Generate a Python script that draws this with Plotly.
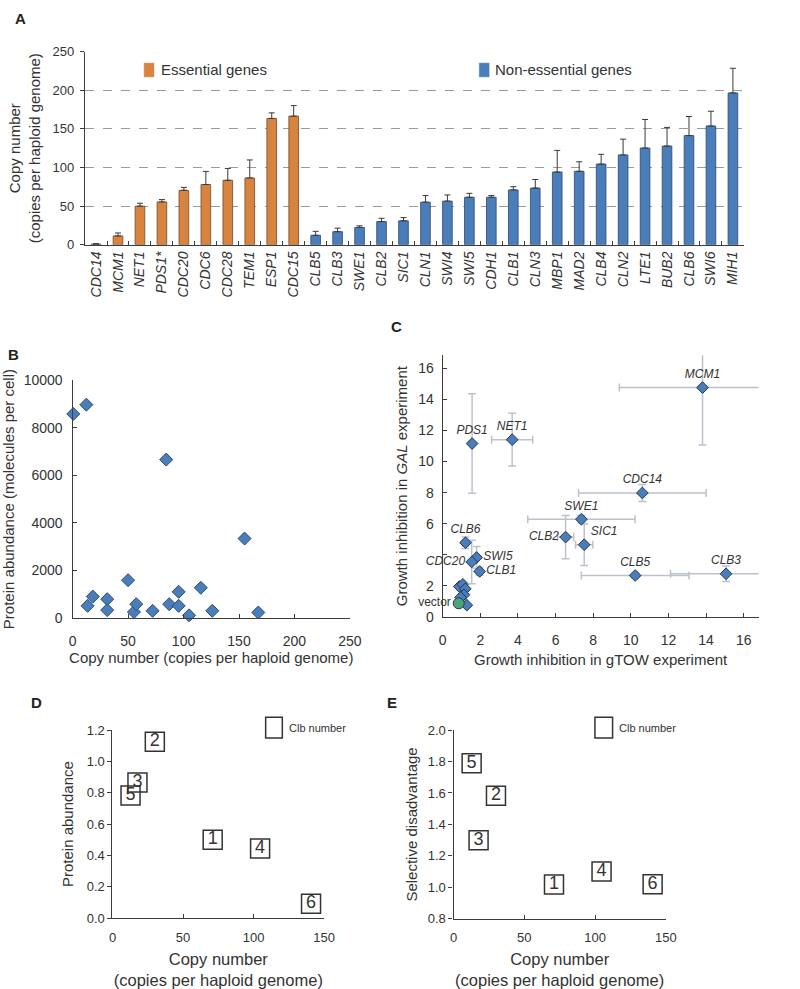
import plotly.graph_objects as go

FONT = "Liberation Sans, Arial, Helvetica, sans-serif"
TXT = "#333333"
AX = "#3c3c3c"
ORANGE = "#d8843f"
BLUE = "#4a7ebb"

# ---------------- Panel A data ----------------
essential_genes = ["CDC14", "MCM1", "NET1", "PDS1*", "CDC20", "CDC6", "CDC28", "TEM1", "ESP1", "CDC15"]
essential_copies = [1.0, 11.5, 50.0, 55.5, 70.5, 78.0, 83.5, 86.5, 163.5, 166.5]
essential_err = [0.5, 3.8, 3.8, 3.0, 3.8, 17.0, 15.3, 23.3, 7.2, 13.6]

nonessential_genes = ["CLB5", "CLB3", "SWE1", "CLB2", "SIC1", "CLN1", "SWI4", "SWI5", "CDH1", "CLB1",
                      "CLN3", "MBP1", "MAD2", "CLB4", "CLN2", "LTE1", "BUB2", "CLB6", "SWI6", "MIH1"]
nonessential_copies = [12.3, 17.0, 22.5, 30.0, 31.0, 55.2, 56.5, 61.5, 61.5, 71.0,
                       73.4, 94.2, 95.1, 104.4, 116.3, 125.2, 127.8, 141.3, 153.7, 196.5]
nonessential_err = [5.1, 4.6, 2.1, 4.3, 4.2, 8.5, 8.0, 5.1, 2.2, 4.2,
                    11.1, 28.0, 12.3, 12.7, 20.4, 36.9, 24.1, 24.7, 19.1, 31.9]
a_yticks = [0, 50, 100, 150, 200, 250]
a_legend_names = ["Essential genes", "Non-essential genes"]

# ---------------- Panel B data ----------------
b_copy = [0.6, 12.4, 13.5, 18.2, 31.2, 31.2, 50.0, 55.3, 57.4, 72.1, 84.4, 87.1, 95.6, 95.6,
          105.0, 115.6, 125.9, 155.0, 167.4]
b_protein = [8580, 8970, 510, 900, 790, 330, 1590, 250, 580, 300, 6660, 580, 1100, 510,
             110, 1270, 300, 3340, 230]
b_xticks = [0, 50, 100, 150, 200, 250]
b_yticks = [0, 2000, 4000, 6000, 8000, 10000]

# ---------------- Panel C data ----------------
c_labels = ["MCM1", "PDS1", "NET1", "CDC14", "SWE1", "CLB2", "SIC1", "CLB5", "CLB3",
            "CLB6", "SWI5", "CDC20", "CLB1"]
c_gtow = [13.81, 1.56, 3.69, 10.61, 7.37, 6.53, 7.52, 10.23, 15.06, 1.21, 1.80, 1.54, 1.96]
c_gal = [14.76, 11.16, 11.41, 7.98, 6.29, 5.14, 4.65, 2.67, 2.78, 4.78, 3.83, 3.54, 2.93]
c_gtow_err = [4.42, 0.0, 1.09, 3.39, 2.85, 0.43, 0.46, 2.86, 2.95, 0.15, 0.0, 0.0, 0.0]
c_gal_err = [3.69, 3.20, 1.70, 0.55, 0.25, 1.39, 1.34, 0.15, 0.50, 0.37, 0.70, 1.40, 0.25]
c_label_pos = ["top center", "top center", "top center", "top center", "top center",
               "middle left", "top right", "top center", "top center", "top center",
               "middle right", "middle left", "middle right"]
c_other_gtow = [0.88, 1.07, 1.20, 1.13, 1.28, 0.95]
c_other_gal = [1.96, 2.10, 1.81, 1.43, 0.76, 1.26]
c_vector_gtow = [0.85]
c_vector_gal = [0.88]
c_ticks = [0, 2, 4, 6, 8, 10, 12, 14, 16]
c_ytick_text = ["0", "2", "", "6", "8", "10", "12", "14", "16"]

# ---------------- Panels D / E data ----------------
clb_numbers = ["1", "2", "3", "4", "5", "6"]
clb_copy = [71.0, 30.0, 17.7, 104.6, 12.8, 140.7]
clb_protein = [0.50, 1.125, 0.865, 0.444, 0.783, 0.092]
clb_disadvantage = [1.017, 1.583, 1.30, 1.10, 1.79, 1.019]
de_xticks = [0, 50, 100, 150]
d_yticks = [0.0, 0.2, 0.4, 0.6, 0.8, 1.0, 1.2]
e_yticks = [0.8, 1.0, 1.2, 1.4, 1.6, 1.8, 2.0]
key_label = "Clb number"

W, H = 800, 989


def px_x(p):
    return p / W


def px_y(p):
    return 1 - p / H


fig = go.Figure()

# Panel A bars
fig.add_trace(go.Bar(
    x=essential_genes, y=essential_copies, name=a_legend_names[0], showlegend=False,
    marker=dict(color=ORANGE, line=dict(color="#6b4a30", width=0.8)),
    error_y=dict(type="data", symmetric=False, array=essential_err,
                 arrayminus=[0] * len(essential_err), color="#3a3a3a", thickness=1, width=3),
    xaxis="x", yaxis="y"))
fig.add_trace(go.Bar(
    x=nonessential_genes, y=nonessential_copies, name=a_legend_names[1], showlegend=False,
    marker=dict(color=BLUE, line=dict(color="#2f4663", width=0.8)),
    error_y=dict(type="data", symmetric=False, array=nonessential_err,
                 arrayminus=[0] * len(nonessential_err), color="#3a3a3a", thickness=1, width=3),
    xaxis="x", yaxis="y"))

# Panel B
fig.add_trace(go.Scatter(
    x=b_copy, y=b_protein, mode="markers", showlegend=False, cliponaxis=False,
    marker=dict(symbol="diamond", size=10, color=BLUE, line=dict(color="#2b4a72", width=1)),
    xaxis="x2", yaxis="y2"))

# Panel C
fig.add_trace(go.Scatter(
    x=c_other_gtow, y=c_other_gal, mode="markers", showlegend=False, cliponaxis=False,
    marker=dict(symbol="diamond", size=9, color=BLUE, line=dict(color="#26364f", width=1)),
    xaxis="x3", yaxis="y3"))
fig.add_trace(go.Scatter(
    x=c_gtow, y=c_gal, mode="markers+text", text=c_labels, textposition=c_label_pos,
    textfont=dict(size=12, style="italic", color=TXT, family=FONT),
    showlegend=False, cliponaxis=False,
    error_x=dict(type="data", array=c_gtow_err, color="#bcc2cc", thickness=1.5, width=4),
    error_y=dict(type="data", array=c_gal_err, color="#bcc2cc", thickness=1.5, width=4),
    marker=dict(symbol="diamond", size=9, color=BLUE, line=dict(color="#26364f", width=1)),
    xaxis="x3", yaxis="y3"))
fig.add_trace(go.Scatter(
    x=c_vector_gtow, y=c_vector_gal, mode="markers+text", text=["vector"],
    textposition="middle left", textfont=dict(size=12, color=TXT, family=FONT),
    showlegend=False, cliponaxis=False,
    marker=dict(symbol="circle", size=11, color="#4aa57c", line=dict(color="#333333", width=1)),
    xaxis="x3", yaxis="y3"))

# Panels D and E
box_marker = dict(symbol="square-open", size=19, color="#333333", line=dict(width=1.5))
fig.add_trace(go.Scatter(
    x=clb_copy, y=clb_protein, mode="markers+text", text=clb_numbers,
    textposition="middle center", textfont=dict(size=18, color=TXT, family=FONT),
    marker=box_marker, showlegend=False, cliponaxis=False, xaxis="x4", yaxis="y4"))
fig.add_trace(go.Scatter(
    x=clb_copy, y=clb_disadvantage, mode="markers+text", text=clb_numbers,
    textposition="middle center", textfont=dict(size=18, color=TXT, family=FONT),
    marker=box_marker, showlegend=False, cliponaxis=False, xaxis="x5", yaxis="y5"))

axis_common = dict(showline=True, linecolor=AX, linewidth=1.3, zeroline=False, showgrid=False,
                   tickcolor=AX, ticklen=4, tickwidth=1.2,
                   tickfont=dict(size=14, color=TXT, family=FONT),
                   title_font=dict(size=15, color=TXT, family=FONT))
small_tick = dict(size=13, color=TXT, family=FONT)

# legend keys (layout decorations)
shapes = []
annotations = []


def key(x0, x1, y0, y1, fill, line, text, tx, size):
    shapes.append(dict(type="rect", xref="paper", yref="paper",
                       x0=px_x(x0), x1=px_x(x1), y0=px_y(y1), y1=px_y(y0),
                       fillcolor=fill, line=dict(color=line, width=1.5 if fill == "white" else 0.5)))
    annotations.append(dict(text=text, x=px_x(tx), y=px_y((y0 + y1) / 2), xref="paper", yref="paper",
                            xanchor="left", yanchor="middle", showarrow=False,
                            font=dict(size=size, color=TXT, family=FONT)))


key(143, 153, 56, 70, ORANGE, ORANGE, a_legend_names[0], 158, 15)
key(485, 495, 56, 70, BLUE, BLUE, a_legend_names[1], 499, 15)
key(267, 284, 721, 742, "white", "#333333", key_label, 289, 11)
key(603, 621, 721, 742, "white", "#333333", key_label, 625, 11)

for letter, lx, ly in [("A", 9, 0), ("B", 2, 342), ("C", 393, 313), ("D", 25, 695), ("E", 389, 695)]:
    annotations.append(dict(text="<b>%s</b>" % letter, x=px_x(lx), y=px_y(ly), xref="paper",
                            yref="paper", xanchor="left", yanchor="top", showarrow=False,
                            font=dict(size=15, color="#222222", family=FONT)))

layout = dict(
    width=W, height=H, margin=dict(l=0, r=0, t=0, b=0),
    paper_bgcolor="white", plot_bgcolor="white",
    font=dict(family=FONT, color=TXT), showlegend=False,
    barmode="overlay", bargap=0.56,
    xaxis=dict(axis_common, domain=[px_x(82.7), px_x(755)], anchor="y", type="category",
               categoryorder="array", categoryarray=essential_genes + nonessential_genes,
               tickangle=-90, ticks="inside", tickson="boundaries",
               tickfont=dict(size=14, style="italic", color=TXT, family=FONT)),
    yaxis=dict(axis_common, domain=[px_y(240.7), px_y(44.3)], anchor="x", range=[0, 250],
               tickvals=a_yticks, ticks="outside", showgrid=True, gridcolor="#9a9a9a",
               griddash="dash", gridwidth=1, tickfont=small_tick, ticklabelstandoff=3,
               title=dict(text="Copy number<br>(copies per haploid genome)", standoff=8)),
    xaxis2=dict(axis_common, domain=[px_x(70), px_x(353)], anchor="y2", range=[0, 250],
                tickvals=b_xticks, ticks="inside", ticklabelstandoff=10,
                title=dict(text="Copy number (copies per haploid genome)", standoff=4)),
    yaxis2=dict(axis_common, domain=[px_y(620), px_y(378.3)], anchor="x2", range=[0, 10000],
                tickvals=b_yticks, tickformat="d", ticks="inside", ticklabelstandoff=6,
                title=dict(text="Protein abundance (molecules per cell)", standoff=6)),
    xaxis3=dict(axis_common, domain=[px_x(447.7), px_x(770)], anchor="y3", range=[0, 16.79],
                tickvals=c_ticks, ticks="inside", ticklabelstandoff=10,
                title=dict(text="Growth inhibition in gTOW experiment", standoff=7)),
    yaxis3=dict(axis_common, domain=[px_y(619), px_y(353)], anchor="x3", range=[0, 16.84],
                tickvals=c_ticks, ticktext=c_ytick_text, ticks="inside", ticklabelstandoff=5,
                title=dict(text="Growth inhibition in <i>GAL</i> experiment", standoff=6)),
    xaxis4=dict(axis_common, domain=[px_x(110.7), px_x(326.7)], anchor="y4", range=[0, 150],
                tickvals=de_xticks, ticks="inside", tickfont=small_tick, ticklabelstandoff=7,
                title=dict(text="Copy number<br>(copies per haploid genome)", standoff=10,
                           font=dict(size=16.5, color=TXT, family=FONT))),
    yaxis4=dict(axis_common, domain=[px_y(925), px_y(734)], anchor="x4", range=[0, 1.2],
                tickvals=d_yticks, tickformat=".1f", ticks="outside", tickfont=small_tick,
                title=dict(text="Protein abundance", standoff=9)),
    xaxis5=dict(axis_common, domain=[px_x(458.7), px_x(675.3)], anchor="y5", range=[0, 150],
                tickvals=de_xticks, ticks="inside", tickfont=small_tick, ticklabelstandoff=7,
                title=dict(text="Copy number<br>(copies per haploid genome)", standoff=10,
                           font=dict(size=16.5, color=TXT, family=FONT))),
    yaxis5=dict(axis_common, domain=[px_y(925.7), px_y(734)], anchor="x5", range=[0.8, 2.0],
                tickvals=e_yticks, tickformat=".1f", ticks="outside", tickfont=small_tick,
                title=dict(text="Selective disadvantage", standoff=6)),
    shapes=shapes,
    annotations=annotations,
)
fig.update_layout(layout)
fig.write_html("out.html")
